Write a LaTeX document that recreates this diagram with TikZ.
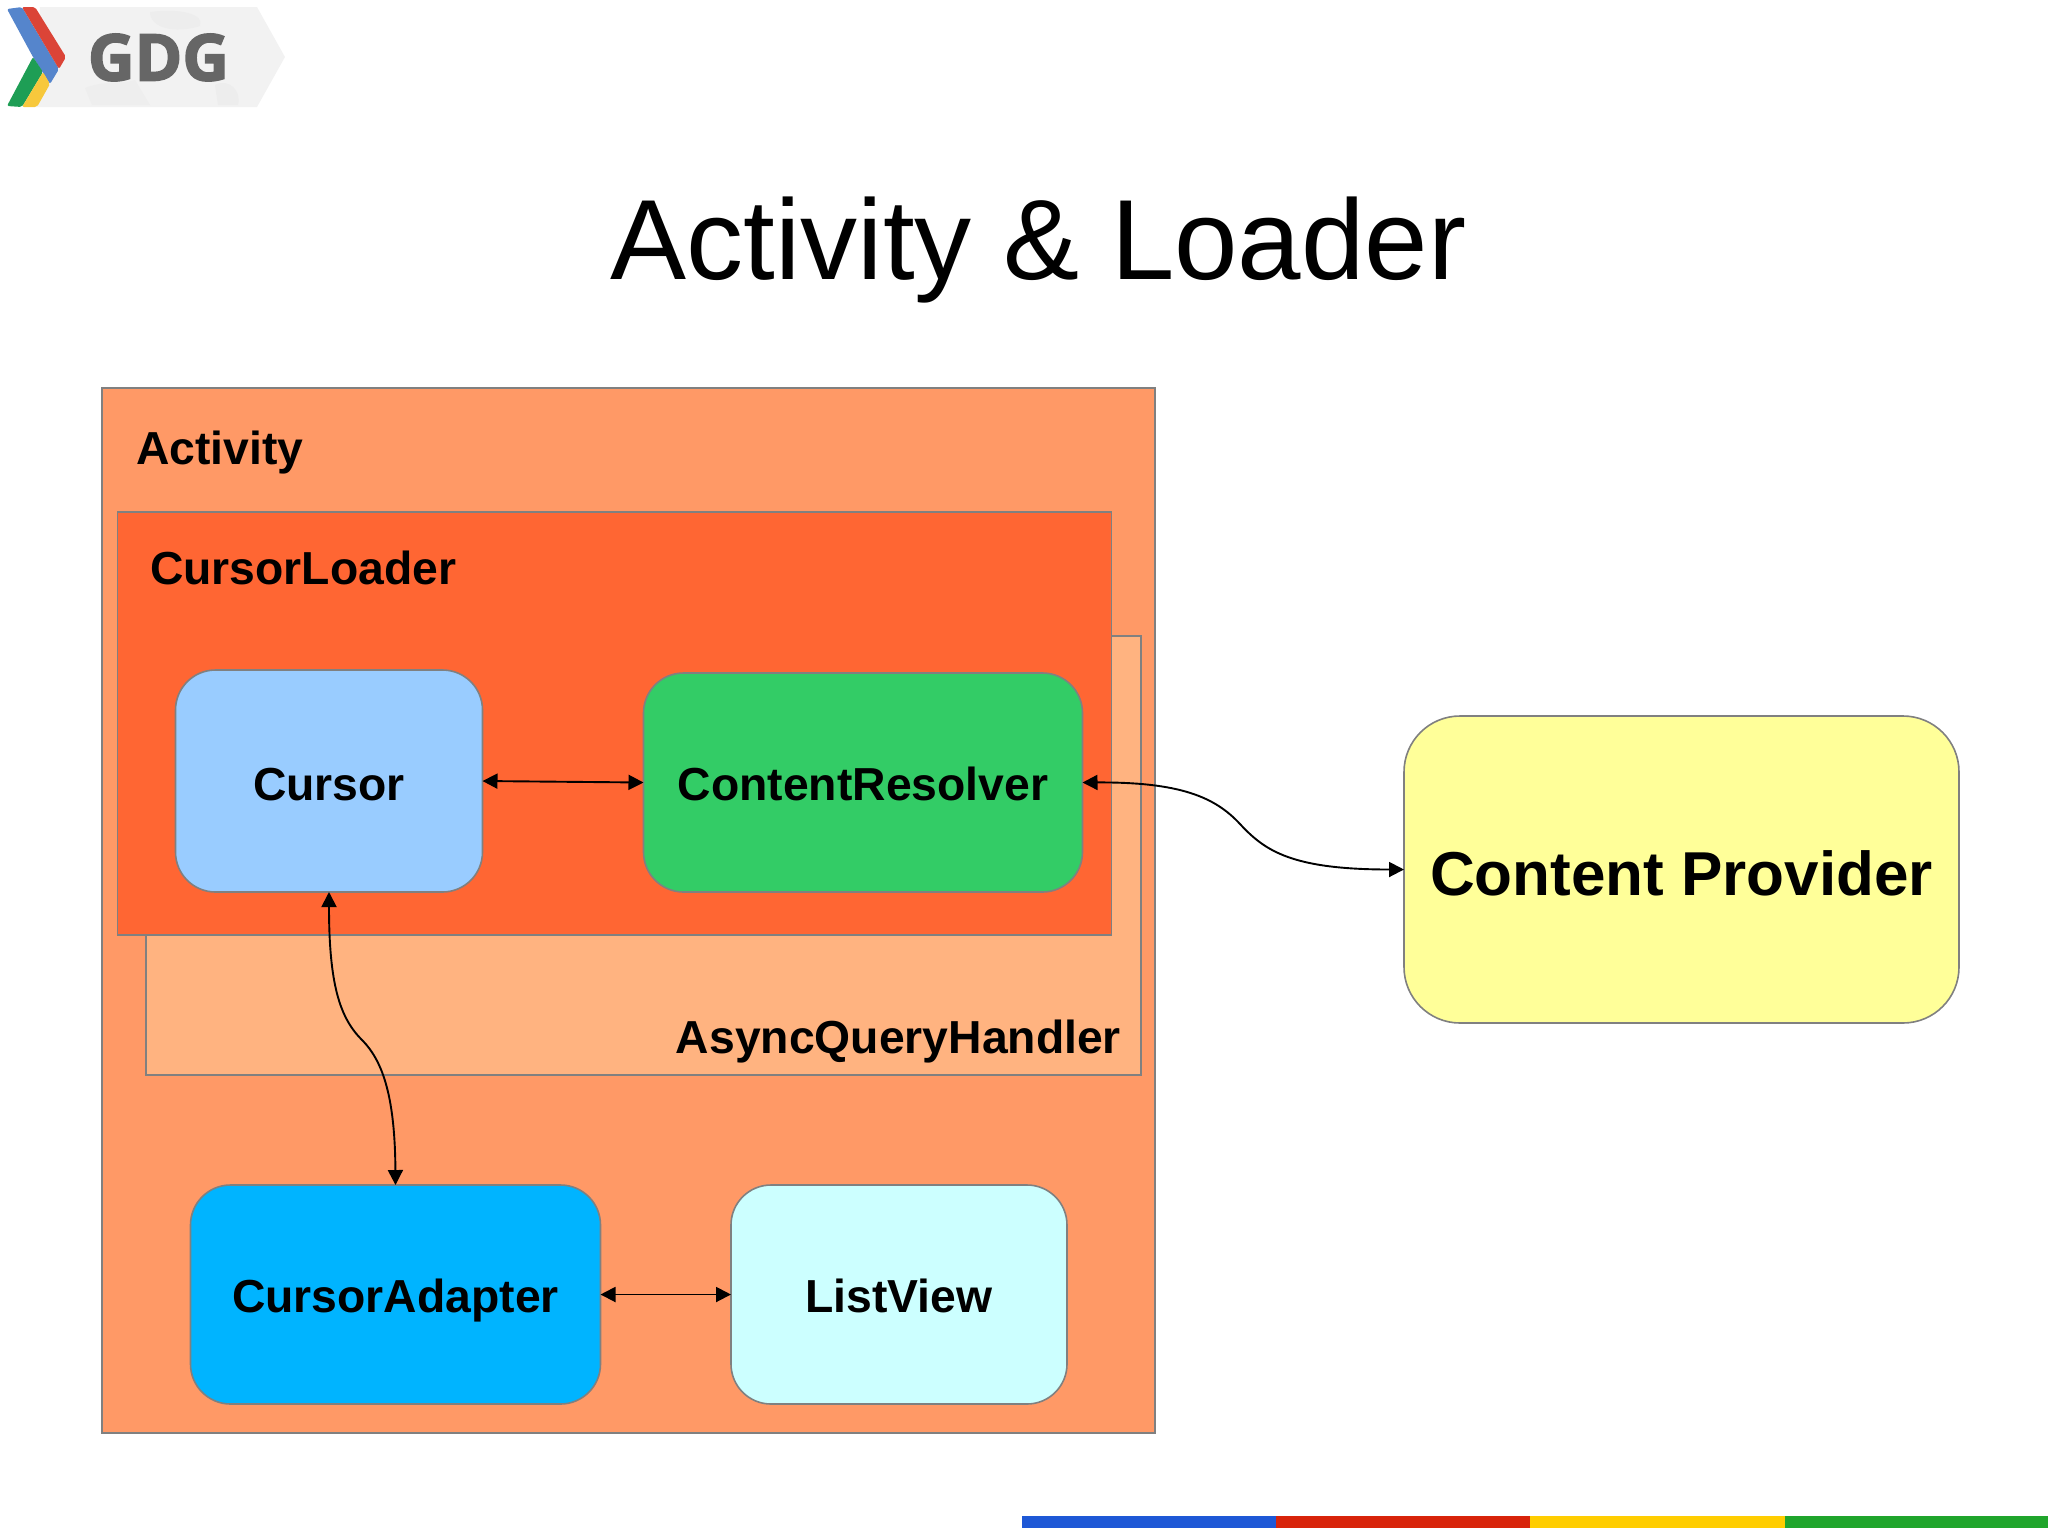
\documentclass[tikz,border=0pt]{standalone}
\usepackage{fontspec}
\setmainfont{Liberation Sans}
\newfontfamily\logofont[BoldFeatures={FakeBold=2.5}]{Open Sans}
\usetikzlibrary{arrows.meta}
\definecolor{cActivity}{HTML}{FF9966}
\definecolor{cLoader}{HTML}{FF6633}
\definecolor{cAsync}{HTML}{FFB380}
\definecolor{cCursor}{HTML}{99CCFF}
\definecolor{cResolver}{HTML}{33CC66}
\definecolor{cAdapter}{HTML}{00B4FF}
\definecolor{cList}{HTML}{CCFFFF}
\definecolor{cProvider}{HTML}{FFFF99}
\definecolor{cEdge}{HTML}{808080}
\definecolor{cBlue}{HTML}{5585CC}
\definecolor{cRed}{HTML}{DB4437}
\definecolor{cGreen}{HTML}{1E9E55}
\definecolor{cYellow}{HTML}{F7C83C}
\tikzset{
  panel/.style={draw=cEdge,line width=1.6pt,anchor=north west,inner sep=0pt,outer sep=0pt},
  card/.style={draw=cEdge,line width=1.6pt,rounded corners=40pt,inner sep=0pt,outer sep=0pt,
    align=center,font=\fontsize{46.3}{50}\bfseries,text height=36pt,text depth=0pt},
  bigcard/.style={card,rounded corners=56pt,font=\fontsize{62}{66}\bfseries,text height=52pt},
  tag/.style={font=\fontsize{46.3}{50}\bfseries,inner sep=0pt,outer sep=0pt,anchor=base west},
  link/.style={line width=1.9pt,{Triangle[length=15pt,width=15pt]}-{Triangle[length=15pt,width=15pt]}},
  barpart/.style={draw=none,minimum height=12pt,inner sep=0pt,outer sep=0pt,anchor=north west}
}
\begin{document}
\begin{tikzpicture}[x=1pt,y=-1pt]
\useasboundingbox (0,0) rectangle (2048,1535);
% logo
\fill[fill=black!5] (40,7) -- (257,7) -- (285,57) -- (257,107) -- (36,107) -- cycle;
\fill[black!7] (150,12) .. controls (180,8) and (205,14) .. (200,26) .. controls (175,34) and (150,28) .. cycle;
\fill[black!7] (215,85) .. controls (228,78) and (242,90) .. (238,105) -- (218,105) -- cycle;
\fill[black!6.5] (85,88) .. controls (105,80) and (120,85) .. (135,80) -- (150,105) -- (92,105) -- cycle;
\fill[cBlue,rounded corners=2pt] (7,9) -- (22,7) -- (59,69) -- (50,84) -- (33,57) -- cycle;
\fill[cRed,rounded corners=2pt] (22,7) -- (35,7) -- (66,57) -- (59,69) -- cycle;
\fill[cGreen,rounded corners=2pt] (33,57) -- (43,72) -- (22,107) -- (7,106) -- cycle;
\fill[cYellow,rounded corners=2pt] (43,72) -- (50,84) -- (37,107) -- (22,107) -- cycle;
\node[font=\logofont\fontsize{64.5}{70}\bfseries,text=black!60,inner sep=0pt,anchor=base] (logotext) at (158.5,80.5) {GDG};
% title
\node[font=\fontsize{114}{120}\selectfont,inner sep=0pt,anchor=base] (title) at (1038.5,279.5) {Activity \& Loader};
% panels
\node[panel,fill=cActivity,minimum width=1053pt,minimum height=1045pt] (activity) at (102,388) {};
\node[panel,fill=cAsync,minimum width=995pt,minimum height=439pt] (async) at (146,636) {};
\node[panel,fill=cLoader,minimum width=994pt,minimum height=423pt] (loader) at (117.5,512) {};
\node[tag] (activitytag) at (136,464.5) {Activity};
\node[tag] (loadertag) at (150,584) {CursorLoader};
\node[tag,anchor=base east] (asynctag) at (1121,1053) {AsyncQueryHandler};
% cards
\node[card,fill=cCursor,text height=38pt,minimum width=307pt,minimum height=222pt] (cursor) at (329,781) {Cursor};
\node[card,fill=cResolver,minimum width=439pt,minimum height=219pt] (resolver) at (863,782.5) {ContentResolver};
\node[card,fill=cAdapter,minimum width=410pt,minimum height=219pt] (adapter) at (395.5,1294.5) {CursorAdapter};
\node[card,fill=cList,minimum width=336pt,minimum height=219pt] (listview) at (899,1294.5) {ListView};
\node[bigcard,fill=cProvider,minimum width=555pt,minimum height=307pt] (provider) at (1681.5,869.5) {Content Provider};
% connectors
\coordinate (midA) at (362,1040);
\coordinate (midB) at (1240,824);
\draw[link] (cursor.east) -- (resolver.west);
\draw[link] (adapter.east) -- (listview.west);
\draw[link] (cursor.south) .. controls (329,985) and (340,1018) .. (midA) .. controls (384,1062) and (395,1100) .. (adapter.north);
\draw[link] (resolver.east) .. controls (1180,782) and (1215,797) .. (midB) .. controls (1265,851) and (1292,869.5) .. (provider.west);
% bottom bar
\node[barpart,fill={rgb,255:red,30;green,88;blue,214},minimum width=254pt] (barA) at (1022,1516) {};
\node[barpart,fill={rgb,255:red,216;green,36;blue,10},minimum width=254pt] (barB) at (1276,1516) {};
\node[barpart,fill={rgb,255:red,255;green,205;blue,0},minimum width=255pt] (barC) at (1530,1516) {};
\node[barpart,fill={rgb,255:red,32;green,165;blue,44},minimum width=263pt] (barD) at (1785,1516) {};
\end{tikzpicture}
\end{document}
